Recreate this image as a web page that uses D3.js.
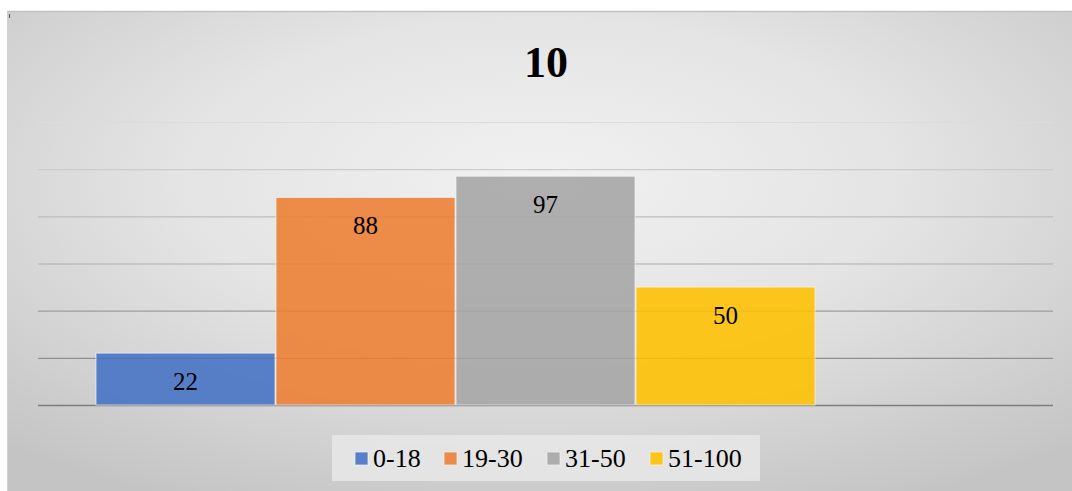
<!DOCTYPE html>
<html><head><meta charset="utf-8">
<script src="https://cdn.jsdelivr.net/npm/d3@7"></script>
<style>html,body{margin:0;padding:0;background:#fff;}svg{display:block;}</style>
</head><body>
<script>
const title = "10";
const seriesNames = ["0-18", "19-30", "31-50", "51-100"];
const seriesValues = [22, 88, 97, 50];
const seriesColors = ["#4472C4", "#ED7D31", "#A5A5A5", "#FFC000"];
const slotCount = 5; // the original category has room for a fifth (empty) series
const yTicks = [0, 20, 40, 60, 80, 100, 120];
const FONT = "Liberation Serif, Times New Roman, Times, serif";

const W = 1072, H = 491;
const svg = d3.select("body").append("svg").attr("width", W).attr("height", H);
const defs = svg.append("defs");
const rg = defs.append("radialGradient").attr("id", "bg")
  .attr("cx", "50%").attr("cy", "35%").attr("r", "75%");
rg.append("stop").attr("offset", "0%").attr("stop-color", "#f1f1f1");
rg.append("stop").attr("offset", "45%").attr("stop-color", "#e4e4e4");
rg.append("stop").attr("offset", "100%").attr("stop-color", "#c4c4c4");

svg.append("rect").attr("x", 7).attr("y", 11).attr("width", W - 7).attr("height", H - 11)
  .attr("fill", "url(#bg)");
svg.append("line").attr("x1", 7).attr("x2", W).attr("y1", 11.5).attr("y2", 11.5)
  .attr("stroke", "#c2c2c2").attr("stroke-width", 1.5);
svg.append("line").attr("x1", 7.5).attr("x2", 7.5).attr("y1", 11).attr("y2", H)
  .attr("stroke", "#d0d0d0").attr("stroke-width", 1);
svg.append("line").attr("x1", 9.5).attr("x2", 9.5).attr("y1", 14).attr("y2", 18)
  .attr("stroke", "#555").attr("stroke-width", 1);

const plot = {left: 38, right: 1053, top: 122, bottom: 405};
const y = d3.scaleLinear().domain([0, 120]).range([plot.bottom, plot.top]);
const x = d3.scaleBand().domain(d3.range(slotCount)).range([plot.left, plot.right])
  .paddingInner(0).paddingOuter(115 / 360);

const gridColor = d3.scaleLinear().domain([0, 120]).range(["#7e7e7e", "#dcdcdc"]);
const yAxis = d3.axisLeft(y).tickValues(yTicks).tickSize(-(plot.right - plot.left)).tickFormat("");
const ga = svg.append("g").attr("transform", `translate(${plot.left},0)`).call(yAxis);
ga.select(".domain").remove();
ga.selectAll(".tick line").attr("stroke", d => gridColor(d)).attr("stroke-width", d => d === 0 ? 1.5 : 1.2);

svg.append("g").selectAll("rect").data(seriesValues).join("rect")
  .attr("x", (d, i) => x(i) + 0.5)
  .attr("y", d => y(d))
  .attr("width", x.bandwidth() - 1)
  .attr("height", d => y(0) - y(d))
  .attr("fill", (d, i) => seriesColors[i])
  .attr("fill-opacity", 0.88)
  .attr("stroke", "#f4f4f4").attr("stroke-opacity", 0.7).attr("stroke-width", 1);

svg.append("g").selectAll("text").data(seriesValues).join("text")
  .attr("x", (d, i) => x(i) + x.bandwidth() / 2)
  .attr("y", d => y(d) + 37)
  .attr("text-anchor", "middle")
  .style("font-family", FONT)
  .style("font-size", "25px").attr("fill", "#000")
  .text(d => d);

svg.append("text").attr("x", 546).attr("y", 77).attr("text-anchor", "middle")
  .style("font-family", FONT)
  .style("font-weight", "bold").style("font-size", "44px").attr("fill", "#000")
  .text(title);

// legend
svg.append("rect").attr("x", 332).attr("y", 435).attr("width", 428).attr("height", 46)
  .attr("fill", "#e8e8e8").attr("fill-opacity", 0.85);
const legendX = [355, 444, 547, 650];
const lg = svg.append("g").selectAll("g").data(seriesNames).join("g")
  .attr("transform", (d, i) => `translate(${legendX[i]},0)`);
lg.append("rect").attr("x", 0).attr("y", 452).attr("width", 13).attr("height", 13)
  .attr("fill", (d, i) => seriesColors[i]).attr("fill-opacity", 0.88)
  .attr("stroke", "#f4f4f4").attr("stroke-opacity", 0.7);
lg.append("text").attr("x", 18).attr("y", 467)
  .style("font-family", FONT)
  .style("font-size", "26px").attr("fill", "#000").text(d => d);
</script>
</body></html>
